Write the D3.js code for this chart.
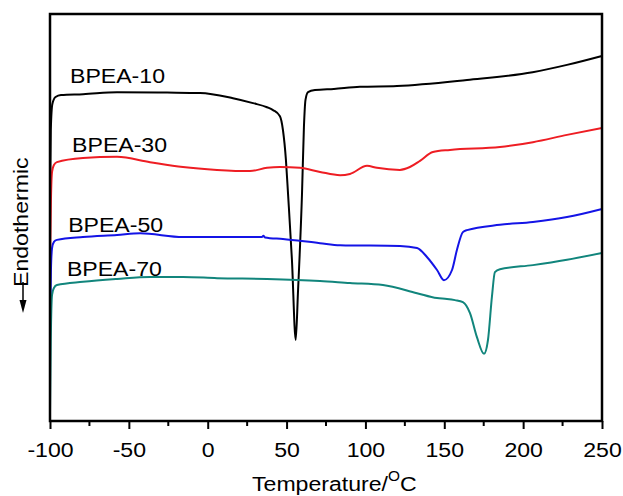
<!DOCTYPE html>
<html>
<head>
<meta charset="utf-8">
<script src="https://cdn.jsdelivr.net/npm/d3@7"></script>
<style>
  html, body { margin: 0; padding: 0; background: #fff; }
  svg { display: block; }
  text { font-family: "Liberation Sans", Arial, sans-serif; fill: #000; }
</style>
</head>
<body>
<svg id="chart" width="623" height="496"></svg>
<script>
// DSC heating traces (heat flow, arbitrary offset units) vs temperature in °C
const tempBPEA10 = [-100, -99.5, -98.5, -96.5, -93, -79, -57.5, -25.8, -4.9, 16, 28.7, 37.6, 41.4, 45.8, 47.7, 49.6, 50.9, 53.4, 55.8, 57.2, 59.8, 61, 62, 63.6, 68, 80, 96.5, 120, 164.4, 206, 227.8, 250];
const heatBPEA10 = [54.3, 71.5, 77.9, 79.6, 80.1, 80.3, 80.8, 80.7, 80.6, 79.3, 78.1, 77.1, 76.4, 74.9, 71.5, 64.1, 56.0, 39.6, 19.9, 31.4, 56.0, 72.2, 78.9, 80.8, 81.3, 81.6, 82.1, 82.3, 83.8, 85.7, 87.5, 89.7];

const tempBPEA30 = [-100, -99.4, -98.7, -97.5, -95.6, -79.1, -57.5, -36.6, -15.7, 5.9, 26.8, 37.6, 45.8, 58.5, 71.2, 83.9, 90.2, 101, 107.3, 121.9, 128.2, 134.6, 142.8, 153.6, 185.3, 206.2, 227.8, 250];
const heatBPEA30 = [37.8, 54.3, 61.2, 62.9, 63.6, 64.6, 64.9, 63.6, 62.4, 61.7, 61.4, 62.2, 62.4, 62.2, 61.2, 60.4, 60.7, 62.7, 62.2, 61.7, 62.4, 63.9, 66.1, 66.6, 67.3, 68.5, 70.3, 72.0];

const tempBPEA50 = [-100, -99.4, -98.7, -97.5, -95.6, -79.1, -57.5, -42.9, -15.7, 16, 34.4, 35.3, 36.3, 47.7, 71.2, 83.9, 121.9, 132.7, 139, 145.4, 149.8, 154.9, 158, 161.8, 164.4, 185.3, 206.2, 227.8, 250];
const heatBPEA50 = [20.6, 37.1, 42.5, 44.0, 44.5, 45.2, 45.7, 46.1, 45.2, 45.2, 45.2, 45.5, 45.1, 44.7, 43.7, 43.2, 43.0, 42.5, 40.3, 37.1, 34.6, 37.1, 42.0, 46.4, 46.9, 48.2, 48.9, 50.1, 52.1];

const tempBPEA70 = [-100, -99.5, -98.7, -97.5, -95.6, -79.1, -57.5, -36.6, -15.7, 5.9, 37.6, 71.2, 90.2, 111.1, 132.7, 145.4, 151.7, 156.8, 161.8, 166.3, 170.7, 175.2, 177.7, 180.2, 182.1, 185.3, 206.2, 227.8, 250];
const heatBPEA70 = [2.0, 19.9, 31.0, 32.7, 33.4, 34.2, 34.9, 35.4, 35.4, 35.1, 34.9, 34.4, 33.9, 33.4, 31.4, 30.2, 30.0, 29.7, 29.2, 26.5, 20.6, 16.5, 19.9, 30.5, 36.6, 37.3, 38.3, 39.6, 41.3];

const seriesNames = ["BPEA-10", "BPEA-30", "BPEA-50", "BPEA-70"];
const xMajorTicks = [-100, -50, 0, 50, 100, 150, 200, 250];
const xMinorTicks = [-75, -25, 25, 75, 125, 175, 225];

// ---- layout & styling ----
const plot = { left: 50, right: 602, top: 14, bottom: 421 };
const colors = ["#000000", "#ee1d23", "#1414e6", "#11857c"];
const labelAnchors = [   // in data units: [temperature, heat]
  [-87.3, 83.0], [-86.0, 66.1], [-88.5, 46.4], [-89.3, 35.6]
];
const wide = "scale(1.1,1)";

const svg = d3.select("#chart");

const x = d3.scaleLinear().domain([-100, 250]).range([plot.left, plot.right]);
const y = d3.scaleLinear().domain([0, 100]).range([plot.bottom, plot.top]);

const series = [
  { name: seriesNames[0], t: tempBPEA10, h: heatBPEA10 },
  { name: seriesNames[1], t: tempBPEA30, h: heatBPEA30 },
  { name: seriesNames[2], t: tempBPEA50, h: heatBPEA50 },
  { name: seriesNames[3], t: tempBPEA70, h: heatBPEA70 }
];

const line = d3.line()
  .x(d => x(d[0]))
  .y(d => y(d[1]))
  .curve(d3.curveMonotoneX);

svg.append("g")
  .selectAll("path")
  .data(series)
  .join("path")
  .attr("d", s => line(s.t.map((t, i) => [t, s.h[i]])))
  .attr("fill", "none")
  .attr("stroke", (s, i) => colors[i])
  .attr("stroke-width", 2)
  .attr("stroke-linejoin", "round");

// curve labels
svg.append("g")
  .selectAll("text")
  .data(series)
  .join("text")
  .attr("transform", (s, i) => `translate(${x(labelAnchors[i][0])},${y(labelAnchors[i][1])}) ${wide}`)
  .attr("font-size", 21)
  .text(s => s.name);

// bottom axis with outward ticks
const xAxis = svg.append("g")
  .attr("transform", `translate(0,${plot.bottom})`)
  .call(d3.axisBottom(x).tickValues(xMajorTicks).tickSize(8).tickPadding(13).tickFormat(d => String(d)));
xAxis.select(".domain").remove();
xAxis.selectAll(".tick line").attr("stroke", "#000").attr("stroke-width", 2);
xAxis.selectAll(".tick text")
  .attr("font-size", 21)
  .attr("font-family", "Liberation Sans, Arial, sans-serif")
  .attr("fill", "#000")
  .attr("dy", "0.71em")
  .attr("transform", wide);

svg.append("g")
  .attr("transform", `translate(0,${plot.bottom})`)
  .selectAll("line")
  .data(xMinorTicks)
  .join("line")
  .attr("x1", d => x(d)).attr("x2", d => x(d))
  .attr("y1", 0).attr("y2", 5)
  .attr("stroke", "#000").attr("stroke-width", 2);

// plot frame
svg.append("rect")
  .attr("x", plot.left).attr("y", plot.top)
  .attr("width", plot.right - plot.left)
  .attr("height", plot.bottom - plot.top)
  .attr("fill", "none")
  .attr("stroke", "#000")
  .attr("stroke-width", 2.5);

// x axis title with superscript degree mark
const xTitle = svg.append("text")
  .attr("transform", `translate(252,491) ${wide}`)
  .attr("font-size", 21);
xTitle.append("tspan").text("Temperature/");
xTitle.append("tspan").attr("font-size", 14).attr("dy", -10).text("O");
xTitle.append("tspan").attr("dy", 10).text("C");

// y axis title with downward arrow
svg.append("text")
  .attr("transform", `translate(28,287) rotate(-90) ${wide}`)
  .attr("font-size", 21)
  .text("Endothermic");
svg.append("line")
  .attr("x1", 23).attr("x2", 23)
  .attr("y1", 282).attr("y2", 302)
  .attr("stroke", "#000").attr("stroke-width", 1.5);
svg.append("path")
  .attr("d", d3.line()([[19.5, 300], [26.5, 300], [23, 313]]) + "Z")
  .attr("fill", "#000");
</script>
</body>
</html>
